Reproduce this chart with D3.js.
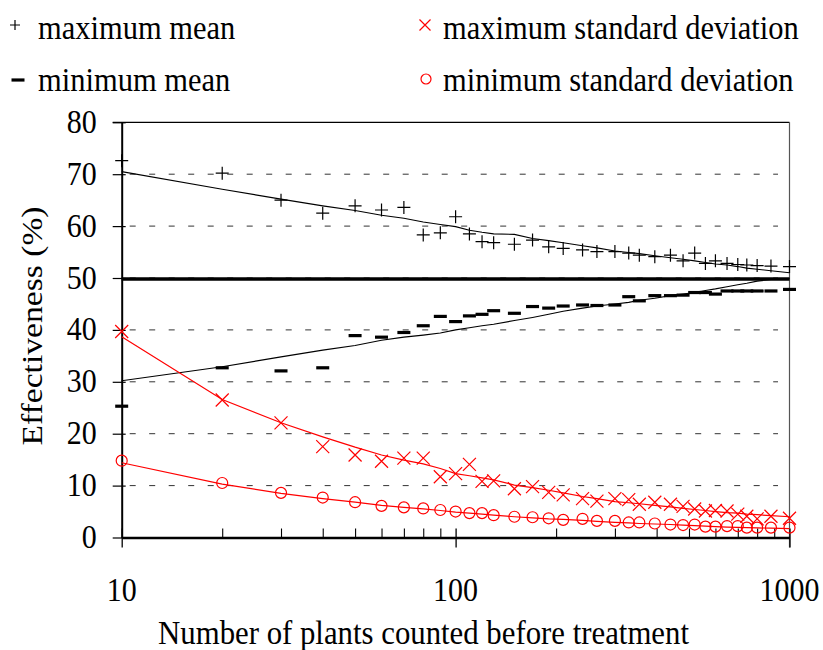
<!DOCTYPE html>
<html>
<head>
<meta charset="utf-8">
<script src="https://cdn.jsdelivr.net/npm/d3@7"></script>
<style>
  body { margin: 0; background: #fff; }
  text { font-family: "Liberation Serif", "Times New Roman", serif; fill: #000; }
</style>
</head>
<body>
<div id="chart"></div>
<script>
// plants counted before treatment (x values)
const plants = [10, 20, 30, 40, 50, 60, 70, 80, 90, 100, 110, 120, 130, 150, 170, 190, 210, 240, 265,
  300, 330, 355, 395, 440, 480, 520, 560, 600, 650, 700, 745, 800, 880, 1000];

// points
const maxMean = [72.6, 70.2, 65.0, 62.5, 63.9, 63.1, 63.6, 58.3, 58.7, 61.8, 58.5, 57.0, 56.8, 56.5, 57.3, 56.0, 55.7, 55.4, 55.1,
  55.1, 54.8, 54.4, 54.1, 54.4, 53.3, 54.8, 52.8, 53.3, 52.8, 52.6, 52.5, 52.4, 52.3, 52.2];
const minMean = [25.3, 32.7, 32.1, 32.7, 38.9, 38.6, 39.5, 40.8, 42.6, 41.6, 42.7, 43.0, 43.7, 43.2, 44.5, 44.2, 44.6, 44.8, 44.7,
  44.8, 46.4, 45.6, 46.6, 46.6, 46.7, 47.2, 47.2, 46.9, 47.5, 47.5, 47.5, 47.5, 47.5, 47.8];
const maxSD = [39.7, 26.5, 22.1, 17.5, 15.9, 14.7, 15.3, 15.3, 11.7, 12.3, 14.1, 10.8, 10.9, 9.4, 9.8, 8.7, 8.2, 7.5, 7.0,
  7.5, 7.3, 6.4, 6.8, 6.4, 6.0, 5.5, 5.1, 5.2, 5.1, 4.5, 4.1, 3.6, 4.1, 3.7];
const minSD = [14.8, 10.5, 8.6, 7.7, 6.8, 6.1, 5.8, 5.6, 5.3, 5.0, 4.7, 4.7, 4.3, 4.0, 3.9, 3.7, 3.4, 3.6, 3.2,
  3.2, 2.9, 2.9, 2.7, 2.5, 2.4, 2.5, 2.1, 2.1, 2.2, 2.2, 1.9, 1.9, 1.9, 1.9];

// fitted lines
const maxMeanFit = [70.5, 67.1, 65.2, 63.9, 63.0, 62.1, 61.5, 60.8, 60.3, 59.9, 59.2, 58.8, 58.5, 58.4, 57.6, 57.2, 56.8, 56.2, 55.8,
  55.2, 54.9, 54.7, 54.3, 53.9, 53.6, 53.3, 53.0, 52.7, 52.5, 52.2, 51.9, 51.7, 51.4, 51.0];
const minMeanFit = [30.2, 32.9, 34.8, 36.1, 37.0, 38.0, 38.6, 39.0, 39.4, 40.0, 40.4, 40.8, 41.1, 41.8, 42.4, 43.0, 43.6, 44.2, 44.6,
  45.0, 45.3, 45.7, 46.1, 46.6, 46.9, 47.2, 47.6, 47.9, 48.3, 48.7, 49.0, 49.4, 49.7, 49.9];
const maxSDFit = [38.7, 26.6, 22.1, 19.4, 17.4, 15.9, 14.9, 14.2, 13.3, 12.3, 11.9, 11.5, 11.1, 10.1, 9.6, 9.1, 8.6, 7.9, 7.5,
  6.9, 6.7, 6.5, 6.2, 5.9, 5.6, 5.4, 5.2, 5.0, 4.8, 4.7, 4.5, 4.4, 4.2, 4.0];
const minSDFit = [14.4, 10.3, 8.5, 7.5, 6.8, 6.2, 5.8, 5.5, 5.2, 4.9, 4.7, 4.5, 4.3, 4.0, 3.8, 3.6, 3.5, 3.3, 3.1,
  2.9, 2.8, 2.7, 2.6, 2.5, 2.4, 2.3, 2.2, 2.1, 2.0, 1.95, 1.9, 1.85, 1.8, 1.7];

const referenceLevel = 49.8;
const yTicks = [0, 10, 20, 30, 40, 50, 60, 70, 80];
const gridTicks = [10, 20, 30, 40, 50, 60, 70];
const xMajor = [10, 100, 1000];
const xMinor = [20, 30, 40, 50, 60, 70, 80, 90, 200, 300, 400, 500, 600, 700, 800, 900];

const W = 823, H = 650;
const plotL = 121.7, plotR = 789.5, plotT = 122.3, plotB = 537.5;
const FS = 30, STRETCH = 1.12;   // glyphs in the original are a bit taller than wide

const svg = d3.select('#chart').append('svg')
  .attr('width', W).attr('height', H);

const x = d3.scaleLog().domain([10, 1000]).range([plotL, plotR]);
const y = d3.scaleLinear().domain([0, 80]).range([plotB, plotT]);

// text with a little vertical stretch
function label(px, py, str, anchor, size) {
  return svg.append('text')
    .attr('transform', `translate(${px},${py}) scale(1,${STRETCH})`)
    .attr('text-anchor', anchor || 'start')
    .style('font-size', (size || FS) + 'px')
    .text(str);
}

// dashed grid
svg.append('g').selectAll('line').data(gridTicks).enter().append('line')
  .attr('x1', plotL).attr('x2', 778)
  .attr('y1', d => y(d)).attr('y2', d => y(d))
  .attr('stroke', '#333').attr('stroke-width', 1)
  .attr('stroke-dasharray', '6,13.5').attr('stroke-dashoffset', -8);

// top and right border
svg.append('line').attr('x1', plotL - 9).attr('x2', plotR).attr('y1', plotT).attr('y2', plotT)
  .attr('stroke', '#000').attr('stroke-width', 1.2);
svg.append('line').attr('x1', plotR).attr('x2', plotR).attr('y1', plotT).attr('y2', plotB + 10)
  .attr('stroke', '#555').attr('stroke-width', 1.2);

// thick reference line at 50
svg.append('line').attr('x1', plotL).attr('x2', plotR)
  .attr('y1', y(referenceLevel)).attr('y2', y(referenceLevel))
  .attr('stroke', '#000').attr('stroke-width', 3.5);

// y axis
const yAxis = svg.append('g')
  .attr('transform', `translate(${plotL},0)`)
  .call(d3.axisLeft(y).tickValues(yTicks).tickFormat('').tickSizeInner(9).tickSizeOuter(0));
yAxis.select('.domain').attr('stroke', '#000').attr('stroke-width', 2);
yAxis.selectAll('.tick line').attr('x1', 4).attr('stroke-width', 1.2);
yTicks.forEach(t => label(plotL - 25, y(t) + 10.5, String(t), 'end'));

// x axis (minor ticks inside, major ticks crossing)
const xAxis = svg.append('g')
  .attr('transform', `translate(0,${plotB})`)
  .call(d3.axisBottom(x).tickValues(xMajor).tickFormat('').tickSizeInner(10).tickSizeOuter(0));
xAxis.select('.domain').attr('stroke', '#000').attr('stroke-width', 2.5);
xAxis.selectAll('.tick line').attr('y1', -9).attr('stroke-width', 1.3);
xMajor.forEach(t => label(x(t), 601, d3.format('d')(t), 'middle'));

const xMinorAxis = svg.append('g')
  .attr('transform', `translate(0,${plotB})`)
  .call(d3.axisBottom(x).tickValues(xMinor).tickFormat('').tickSizeInner(-9).tickSizeOuter(0));
xMinorAxis.select('.domain').remove();
xMinorAxis.selectAll('.tick line').attr('stroke-width', 1.1);

// fitted lines
const line = vals => d3.line()
  .x((d, i) => x(plants[i]))
  .y(d => y(d))(vals);

svg.append('path').attr('d', line(maxMeanFit)).attr('fill', 'none').attr('stroke', '#000').attr('stroke-width', 1.1);
svg.append('path').attr('d', line(minMeanFit)).attr('fill', 'none').attr('stroke', '#000').attr('stroke-width', 1.1);
svg.append('path').attr('d', line(maxSDFit)).attr('fill', 'none').attr('stroke', '#ff0000').attr('stroke-width', 1.2);
svg.append('path').attr('d', line(minSDFit)).attr('fill', 'none').attr('stroke', '#ff0000').attr('stroke-width', 1.2);

// marker shapes
function plus(g, s) {
  g.append('path').attr('d', `M${-s},0H${s}M0,${-s}V${s}`)
    .attr('stroke', '#000').attr('stroke-width', 1.2).attr('fill', 'none');
}
function dash(g, s) {
  g.append('path').attr('d', `M${-s},0H${s}`)
    .attr('stroke', '#000').attr('stroke-width', 3.2).attr('fill', 'none');
}
function cross(g, s) {
  g.append('path').attr('d', `M${-s},${-s}L${s},${s}M${-s},${s}L${s},${-s}`)
    .attr('stroke', '#ff0000').attr('stroke-width', 1.2).attr('fill', 'none');
}
function ring(g, r) {
  g.append('circle').attr('r', r)
    .attr('stroke', '#ff0000').attr('stroke-width', 1.2).attr('fill', 'none');
}

function drawSeries(vals, shape, size) {
  svg.append('g').selectAll('g').data(vals).enter().append('g')
    .attr('transform', (d, i) => `translate(${x(plants[i])},${y(d)})`)
    .each(function () { shape(d3.select(this), size); });
}

drawSeries(maxMean, plus, 6.5);
drawSeries(minMean, dash, 6.5);
drawSeries(maxSD, cross, 6.5);
drawSeries(minSD, ring, 5.5);

// legend
const legend = [
  { label: 'maximum mean', shape: plus, size: 5, mx: 15, my: 25, tx: 38, ty: 38.5 },
  { label: 'minimum mean', shape: dash, size: 6.5, mx: 18, my: 80, tx: 38, ty: 91 },
  { label: 'maximum standard deviation', shape: cross, size: 5.5, mx: 425, my: 25, tx: 443, ty: 38.5 },
  { label: 'minimum standard deviation', shape: ring, size: 5, mx: 426, my: 79, tx: 443, ty: 91 }
];
legend.forEach(l => {
  const g = svg.append('g').attr('transform', `translate(${l.mx},${l.my})`);
  l.shape(g, l.size);
  label(l.tx, l.ty, l.label, 'start', 30.5);
});

// axis titles
label(423.5, 644, 'Number of plants counted before treatment', 'middle', 30.8);

svg.append('text')
  .attr('transform', `translate(42,326) rotate(-90) scale(${STRETCH},1)`)
  .attr('text-anchor', 'middle').style('font-size', FS + 'px')
  .text('Effectiveness (%)');
</script>
</body>
</html>
